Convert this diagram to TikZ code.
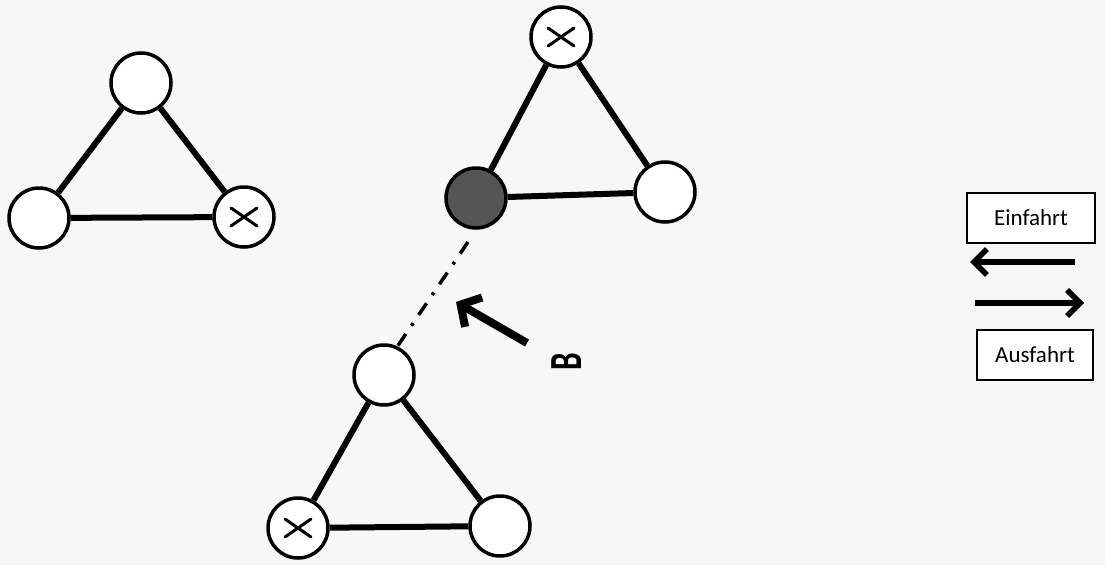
\documentclass[tikz,border=0pt]{standalone}
\usepackage{fontspec}
\setmainfont{Carlito}
\usetikzlibrary{arrows.meta}
\definecolor{paper}{RGB}{247,247,245}
\definecolor{darkfill}{RGB}{85,85,85}
\tikzset{
  stn/.style={circle, draw=black, fill=white, line width=3.5pt, minimum size=60pt, inner sep=0pt},
  dark/.style={stn, fill=darkfill},
  xmark/.style={stn, path picture={
      \draw[line width=3pt, line cap=round] ([xshift=-13pt,yshift=-9pt]path picture bounding box.center) -- ([xshift=13pt,yshift=9pt]path picture bounding box.center);
      \draw[line width=3pt, line cap=round] ([xshift=-13pt,yshift=9pt]path picture bounding box.center) -- ([xshift=13pt,yshift=-9pt]path picture bounding box.center);}},
  edge/.style={line width=6pt},
  dashdot/.style={line width=3.5pt, dash pattern=on 14pt off 10pt on 3pt off 10pt},
  legbox/.style={draw=black, line width=1.8pt, fill=white, minimum height=50pt, inner sep=0pt, font=\fontsize{23}{26}\selectfont},
  legarrow/.style={line width=5.5pt, -{Straight Barb[length=13pt, width=26pt]}},
  barrow/.style={line width=8pt, -{Straight Barb[length=15pt, width=34pt]}}
}
\begin{document}
\begin{tikzpicture}[x=1pt, y=-1pt]
\fill[paper] (0,0) rectangle (1105,565);
\useasboundingbox (0,0) rectangle (1105,565);

% triangle 1
\node[stn] (a1) at (141,83) {};
\node[stn] (a2) at (39,218) {};
\node[xmark] (a3) at (244,217) {};
\draw[edge] (a1) -- (a2);
\draw[edge] (a1) -- (a3);
\draw[edge] (a2) -- (a3);

% triangle 2
\node[xmark] (b1) at (561,37) {};
\node[dark] (b2) at (476,198) {};
\node[stn] (b3) at (665,192) {};
\draw[edge] (b1) -- (b2);
\draw[edge] (b1) -- (b3);
\draw[edge] (b2) -- (b3);

% triangle 3
\node[stn] (c1) at (384,375) {};
\node[xmark] (c2) at (298,528) {};
\node[stn] (c3) at (500,526) {};
\draw[edge] (c1) -- (c2);
\draw[edge] (c1) -- (c3);
\draw[edge] (c2) -- (c3);

% dash-dot link
\path (b2) ++(-8,44) coordinate (ds);
\path (c1) ++(13,-28) coordinate (de);
\draw[dashdot] (ds) -- (de);

% arrow B
\coordinate (btail) at (527,343);
\coordinate (btip) at (456,302);
\draw[barrow] (btail) -- (btip);
\node[rotate=90, font=\bfseries\fontsize{46}{50}\selectfont] (blab) at (567,362) {\scalebox{0.68}[1]{B}};

% legend
\node[legbox, minimum width=128pt] (ein) at (1031,218) {Einfahrt};
\node[legbox, minimum width=116pt] (aus) at (1035,355) {Ausfahrt};
\coordinate (l1s) at (1075,262);
\coordinate (l1e) at (970,262);
\coordinate (l2s) at (975,303);
\coordinate (l2e) at (1084,303);
\draw[legarrow] (l1s) -- (l1e);
\draw[legarrow] (l2s) -- (l2e);
\end{tikzpicture}
\end{document}
